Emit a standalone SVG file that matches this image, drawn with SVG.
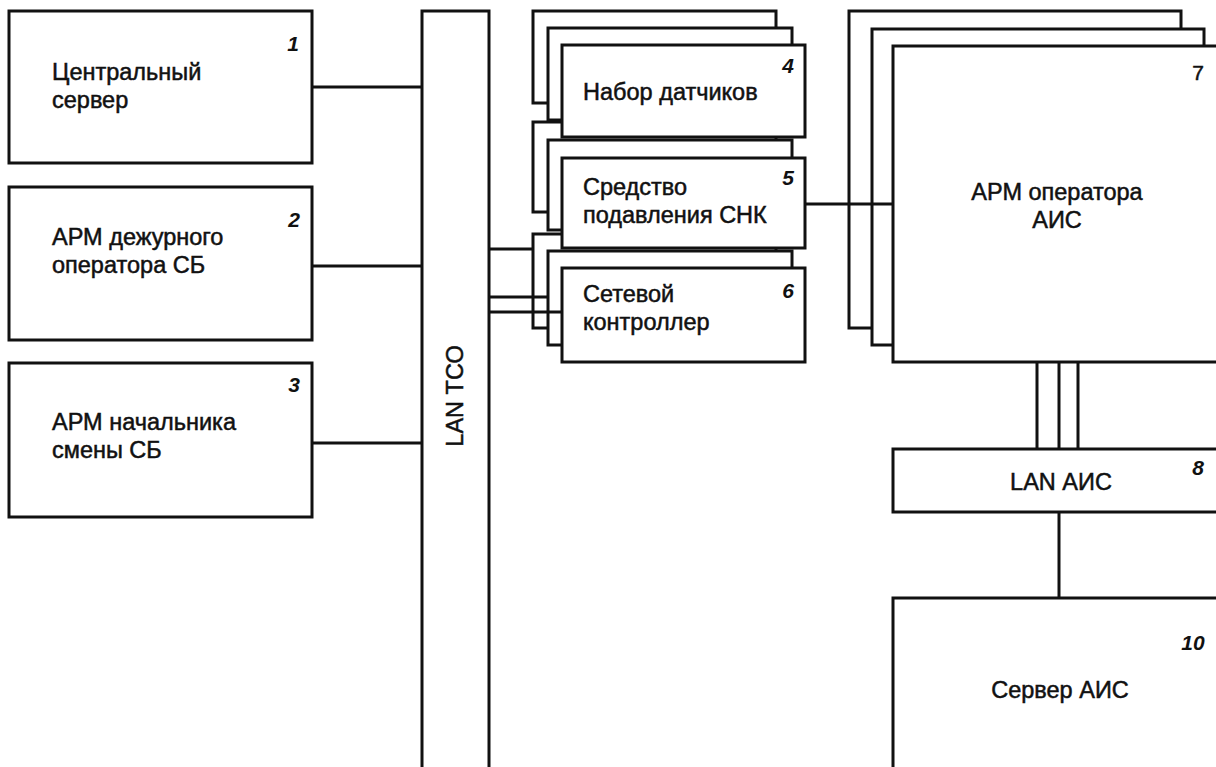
<svg xmlns="http://www.w3.org/2000/svg" width="1216" height="767" viewBox="0 0 1216 767">
<style>
.b{fill:#fff;stroke:#111;stroke-width:3}
.c{fill:none;stroke:#111;stroke-width:3}
.t{font-family:"Liberation Sans",Arial,sans-serif;font-size:23.5px;fill:#111;stroke:#111;stroke-width:0.5}
.m{text-anchor:middle}
.n{font-family:"Liberation Sans",Arial,sans-serif;font-size:21px;font-style:italic;font-weight:bold;fill:#111;text-anchor:middle}
</style>
<rect width="1216" height="767" fill="#fff"/>
<g id="node1"><rect class="b" x="9" y="11" width="303" height="152"/><text class="n" x="293" y="51">1</text><text class="t" x="52" y="80">Центральный</text><text class="t" x="52" y="108">сервер</text></g>
<g id="node2"><rect class="b" x="9" y="187" width="303" height="153"/><text class="n" x="294" y="227">2</text><text class="t" x="52" y="245">АРМ дежурного</text><text class="t" x="52" y="273">оператора СБ</text></g>
<g id="node3"><rect class="b" x="9" y="363" width="303" height="154"/><text class="n" x="294" y="392">3</text><text class="t" x="52" y="430">АРМ начальника</text><text class="t" x="52" y="458">смены СБ</text></g>
<g id="lan-tco"><rect class="b" x="422" y="11" width="67" height="770"/><text class="t m" transform="translate(463,396) rotate(-90)">LAN ТСО</text></g>
<g id="stack-backs">
<rect class="b" x="533" y="11" width="243" height="92"/>
<rect class="b" x="533" y="122" width="243" height="90"/>
<rect class="b" x="533" y="234" width="243" height="94"/>
<rect class="b" x="849" y="11" width="332" height="317"/>
</g>
<g id="stack-middles">
<rect class="b" x="548" y="28" width="244" height="92"/>
<rect class="b" x="548" y="140" width="244" height="90"/>
<rect class="b" x="548" y="251" width="244" height="94"/>
<rect class="b" x="872" y="29" width="332" height="316"/>
</g>
<g id="node4"><rect class="b" x="562" y="45" width="243" height="92"/><text class="n" x="788" y="73">4</text><text class="t" x="583" y="100">Набор датчиков</text></g>
<g id="node5"><rect class="b" x="562" y="158" width="243" height="90"/><text class="n" x="788" y="185">5</text><text class="t" x="583" y="195">Средство</text><text class="t" x="583" y="223">подавления СНК</text></g>
<g id="node6"><rect class="b" x="562" y="268" width="243" height="94"/><text class="n" x="788" y="298">6</text><text class="t" x="583" y="302">Сетевой</text><text class="t" x="583" y="330">контроллер</text></g>
<g id="node7"><rect class="b" x="893" y="46" width="340" height="316"/><text class="t m" x="1198" y="80" style="font-size:21px">7</text><text class="t m" x="1057" y="200">АРМ оператора</text><text class="t m" x="1057" y="228">АИС</text></g>
<g id="node8"><rect class="b" x="893" y="449" width="340" height="63"/><text class="n" x="1198" y="475">8</text><text class="t m" x="1061" y="490">LAN АИС</text></g>
<g id="node10"><rect class="b" x="893" y="598" width="340" height="190"/><text class="n" x="1193" y="650">10</text><text class="t m" x="1060" y="698">Сервер АИС</text></g>
<g id="connectors">
<path class="c" d="M312 87H422M312 266H422M312 443H422"/>
<path class="c" d="M489 249H533M489 297H548M489 312H562"/>
<path class="c" d="M805 204H893"/>
<path class="c" d="M1037 362V449M1059 362V449M1078 362V449"/>
<path class="c" d="M1059 512V598"/>
</g>
</svg>
